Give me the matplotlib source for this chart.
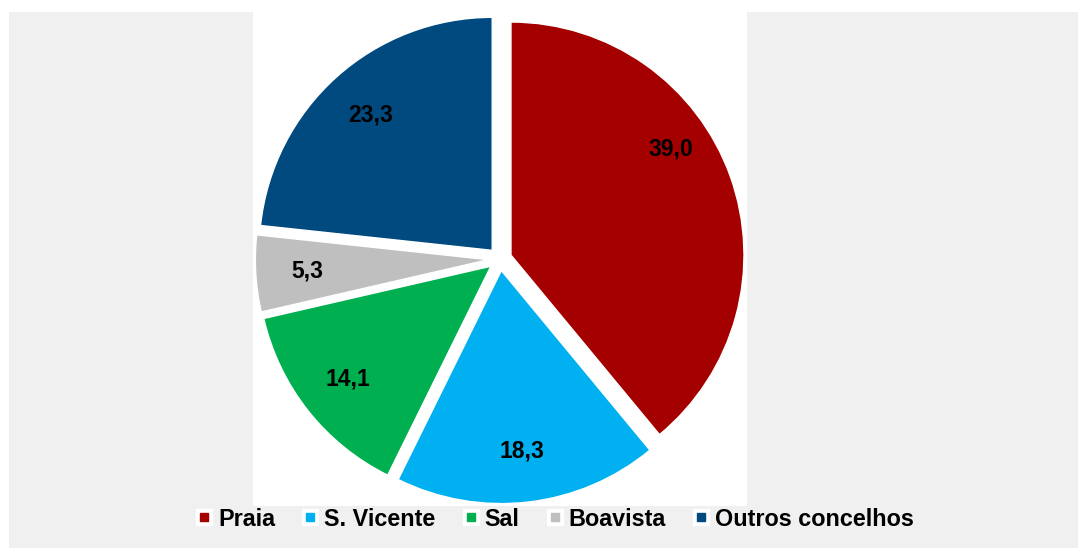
import numpy as np
import matplotlib.pyplot as plt
from matplotlib.patches import Rectangle
from matplotlib.lines import Line2D

plt.rcParams['font.family'] = ['Liberation Sans', 'DejaVu Sans']

# data
concelhos = ['Praia', 'S. Vicente', 'Sal', 'Boavista', 'Outros concelhos']
valores = [39.0, 18.3, 14.1, 5.3, 23.3]
cores = ['#a50000', '#00b0f0', '#00b050', '#bfbfbf', '#004a7f']

W, H = 1078, 548
fig = plt.figure(figsize=(W / 100, H / 100), dpi=100, facecolor='white')

# grey chart area, white plot area on top
fig.patches.append(Rectangle((9 / W, 0), 1 - 9 / W, (H - 12) / H,
                             transform=fig.transFigure, facecolor='#f0f0f0',
                             edgecolor='none', zorder=-10))
fig.patches.append(Rectangle((253 / W, 1 - 506 / H), 494 / W, 494 / H,
                             transform=fig.transFigure, facecolor='white',
                             edgecolor='none', zorder=-5))

ax = fig.add_axes([253 / W, 1 - 506 / H, 494 / W, 494 / H])

explode = 0.05
wedges, texts, autotexts = ax.pie(
    valores, colors=cores, startangle=90, counterclock=False,
    explode=[explode] * len(valores), radius=1.0,
    autopct='%1.1f', pctdistance=0.78,
    wedgeprops=dict(edgecolor='white', linewidth=1),
    textprops=dict(fontsize=16.5, fontweight='bold', color='black'))

for t, v in zip(autotexts, valores):
    t.set_text(f'{v:.1f}'.replace('.', ','))

# Praia label sits a bit higher up in its slice
w = wedges[0]
ang = np.deg2rad((w.theta1 + w.theta2) / 2 + 13)
d = 0.87
autotexts[0].set_position((d * np.cos(ang), d * np.sin(ang)))

ax.set_xlim(-1.06, 1.06)
ax.set_ylim(-1.06, 1.06)
ax.set_aspect('equal')
ax.axis('off')

handles = [(Line2D([], [], marker='s', linestyle='none', markersize=11,
                   markerfacecolor='white', markeredgecolor='white'),
            Line2D([], [], marker='s', linestyle='none', markersize=6,
                   markerfacecolor=c, markeredgecolor=c)) for c in cores]

fig.legend(handles, concelhos, loc='center', ncol=5,
           bbox_to_anchor=(555 / W, 1 - 519 / H), frameon=False,
           prop=dict(size=16.8, weight='bold'), handlelength=0.7,
           handletextpad=0.25, columnspacing=1.15)

fig.savefig('out.png', dpi=100)
